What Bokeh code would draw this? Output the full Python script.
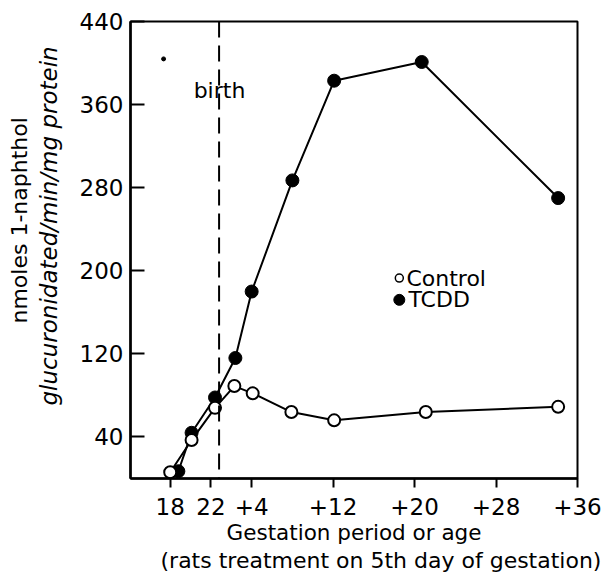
from math import pi
from bokeh.plotting import figure
from bokeh.models import Range1d, FixedTicker, Label, Span, Title
from bokeh.embed import file_html
from bokeh.resources import INLINE

# ---- data (x in gestation-day units; postnatal day +n plotted at 22+n) ----
day_control = [18.0, 20.1, 22.4, 24.3, 26.1, 29.9, 34.1, 43.1, 56.1]
val_control = [6, 37, 68, 89, 82, 64, 56, 64, 69]
day_tcdd = [18.8, 20.1, 22.4, 24.4, 26.0, 30.0, 34.1, 42.7, 56.1]
val_tcdd = [7, 44, 78, 116, 180, 287, 383, 401, 270]

tick_days = [18, 22, 26, 34, 42, 50, 58]
tick_labels = ["18", "22", "+4", "+12", "+20", "+28", "+36"]
y_ticks = [40, 120, 200, 280, 360, 440]
birth_day = 22.8
speck_x = [17.35]
speck_y = [404]

FONT = "DejaVu Sans"

p = figure(width=609, height=572, output_backend="svg", toolbar_location=None,
           x_range=Range1d(14.1, 58), y_range=Range1d(0, 440),
           min_border_left=130, min_border_right=32, min_border_top=21,
           min_border_bottom=94)
p.background_fill_color = "white"
p.border_fill_color = "white"
p.grid.visible = False
p.outline_line_color = "black"
p.outline_line_width = 2

# axes
p.xaxis.ticker = FixedTicker(ticks=tick_days)
p.xaxis.major_label_overrides = {d: l for d, l in zip(tick_days, tick_labels)}
p.xaxis.major_tick_in = 0
p.xaxis.major_tick_out = 9
p.xaxis.minor_tick_line_color = None
p.xaxis.axis_line_width = 2.5
p.xaxis.major_tick_line_width = 2
p.xaxis.major_label_text_font = FONT
p.xaxis.major_label_text_font_size = "23px"
p.xaxis.major_label_text_color = "black"
p.xaxis.major_label_standoff = 10

p.yaxis.ticker = FixedTicker(ticks=y_ticks)
p.yaxis.major_tick_in = 14
p.yaxis.major_tick_out = 0
p.yaxis.minor_tick_line_color = None
p.yaxis.axis_line_width = 2.5
p.yaxis.major_tick_line_width = 2
p.yaxis.major_label_text_font = FONT
p.yaxis.major_label_text_font_size = "23px"
p.yaxis.major_label_text_color = "black"
p.yaxis.major_label_standoff = 7
# invisible spacer label to widen the gap between tick labels and the titles
p.yaxis.axis_label = "\u00a0"
p.yaxis.axis_label_text_font_size = "2px"
p.yaxis.axis_label_standoff = 8

# birth marker
p.add_layout(Span(location=birth_day, dimension="height", line_color="black",
                  line_width=2, line_dash="16 8"))
p.add_layout(Label(x=birth_day - 2.5, y=374, text="birth", text_font=FONT,
                   text_font_size="22px", text_color="black",
                   text_baseline="middle", text_align="left"))

# series
p.line(day_tcdd, val_tcdd, line_color="black", line_width=2)
p.line(day_control, val_control, line_color="black", line_width=2)
p.scatter(day_tcdd, val_tcdd, size=13, fill_color="black", line_color="black")
p.scatter(day_control, val_control, size=12, fill_color="white", line_color="black",
          line_width=2)
p.scatter(speck_x, speck_y, size=4, fill_color="black", line_color="black")

# legend (manual)
p.scatter([40.5], [193], size=8, fill_color="white", line_color="black", line_width=1.5)
p.scatter([40.5], [172], size=11, fill_color="black", line_color="black")
p.add_layout(Label(x=41.2, y=193, text="Control", text_font=FONT, text_font_size="22px",
                   text_color="black", text_baseline="middle", text_align="left"))
p.add_layout(Label(x=41.4, y=172, text="TCDD", text_font=FONT, text_font_size="22px",
                   text_color="black", text_baseline="middle", text_align="left"))

# axis titles (as side titles so they can sit outside the frame)
p.add_layout(Title(text="glucuronidated/min/mg protein", text_font=FONT,
                   text_font_size="23px", text_font_style="italic", text_color="black",
                   align="left", offset=73, standoff=3), "left")
p.add_layout(Title(text="nmoles 1-naphthol", text_font=FONT,
                   text_font_size="22px", text_font_style="normal", text_color="black",
                   align="left", offset=155, standoff=2), "left")
p.add_layout(Title(text="Gestation period or age", text_font=FONT,
                   text_font_size="21.5px", text_font_style="normal", text_color="black",
                   align="center", standoff=1), "below")
p.add_layout(Title(text="(rats treatment on 5th day of gestation)", text_font=FONT,
                   text_font_size="22px", text_font_style="normal", text_color="black",
                   align="left", offset=30, standoff=0), "below")

open("out.html", "w").write(file_html(p, INLINE))
